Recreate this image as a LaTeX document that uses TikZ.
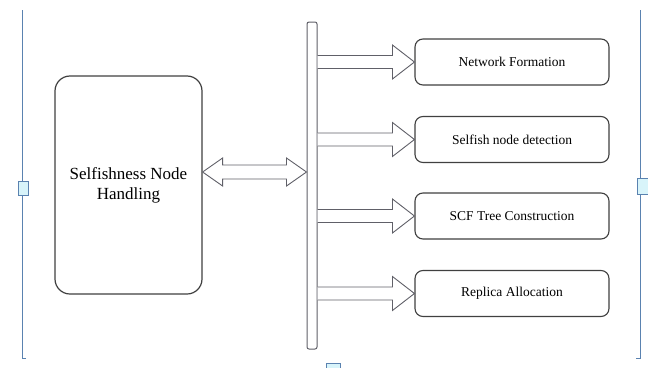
\documentclass[tikz,border=0pt]{standalone}
\usepackage{fontspec}
\setmainfont{Liberation Serif}
\usetikzlibrary{positioning,calc}

\definecolor{framblue}{RGB}{90,130,176}
\definecolor{handfill}{RGB}{216,244,250}
\definecolor{boxline}{RGB}{64,64,64}
\definecolor{arrline}{RGB}{96,96,104}

\tikzset{
    stagebox/.style={draw=boxline, line width=1.1pt, rounded corners=8pt, fill=white,
        minimum width=194pt, minimum height=46pt, font=\fontsize{13.5}{15}\selectfont},
    blockarr/.style={draw=arrline, line width=0.9pt, fill=white, line join=miter},
    handle/.style={draw=framblue, fill=handfill, line width=0.8pt}
}

\begin{document}
\begin{tikzpicture}[x=1pt, y=-1pt]
        \useasboundingbox (0,0) rectangle (648,367);
        % selection frame of the screenshot
        \draw[framblue, line width=1pt] (22,10) -- (22,358) -- (26,358);
        \draw[framblue, line width=1pt] (640,10) -- (640,358) -- (636,358);
        \draw[handle] (18,181) rectangle (28,195);
        \draw[handle] (637,178) rectangle (648,194);
        \draw[handle] (326,363) rectangle (340,370);

        % main block and bus bar
        \node[draw=boxline, line width=1.2pt, rounded corners=15pt, fill=white,
              minimum width=147pt, minimum height=218pt, align=center,
              font=\fontsize{17}{20}\selectfont] (handling) at (128.5,185) {Selfishness Node\\Handling};
        \node[draw=arrline, line width=1pt, rounded corners=2pt, fill=white,
              minimum width=10pt, minimum height=327pt, inner sep=0pt] (bar) at (312,185.5) {};

        % double arrow between block and bar
        \coordinate (le) at ($(handling.east)+(0,-13)$);
        \coordinate (re) at (bar.west |- le);
        \draw[blockarr] (le) -- ++(20,-14) -- ++(0,7) -- ($(re)+(-20,-7)$) -- ++(0,-7) -- (re)
            -- ++(-20,14) -- ++(0,-7) -- ($(le)+(20,7)$) -- ++(0,7) -- cycle;

        % stages with their arrows
        \foreach \i/\y/\txt in {1/62/Network Formation,2/139.5/Selfish node detection,
                                3/216/SCF Tree Construction,4/293.5/Replica Allocation} {
            \node[stagebox] (st\i) at (512,\y) {\txt};
            \draw[blockarr] ($(bar.east |- st\i.west)+(0,-6.5)$) -- ($(st\i.west)+(-22,-6.5)$)
                -- ++(0,-10.5) -- (st\i.west) -- ($(st\i.west)+(-22,17)$) -- ++(0,-10.5)
                -- ($(bar.east |- st\i.west)+(0,6.5)$);
        }
    \end{tikzpicture}
\end{document}
